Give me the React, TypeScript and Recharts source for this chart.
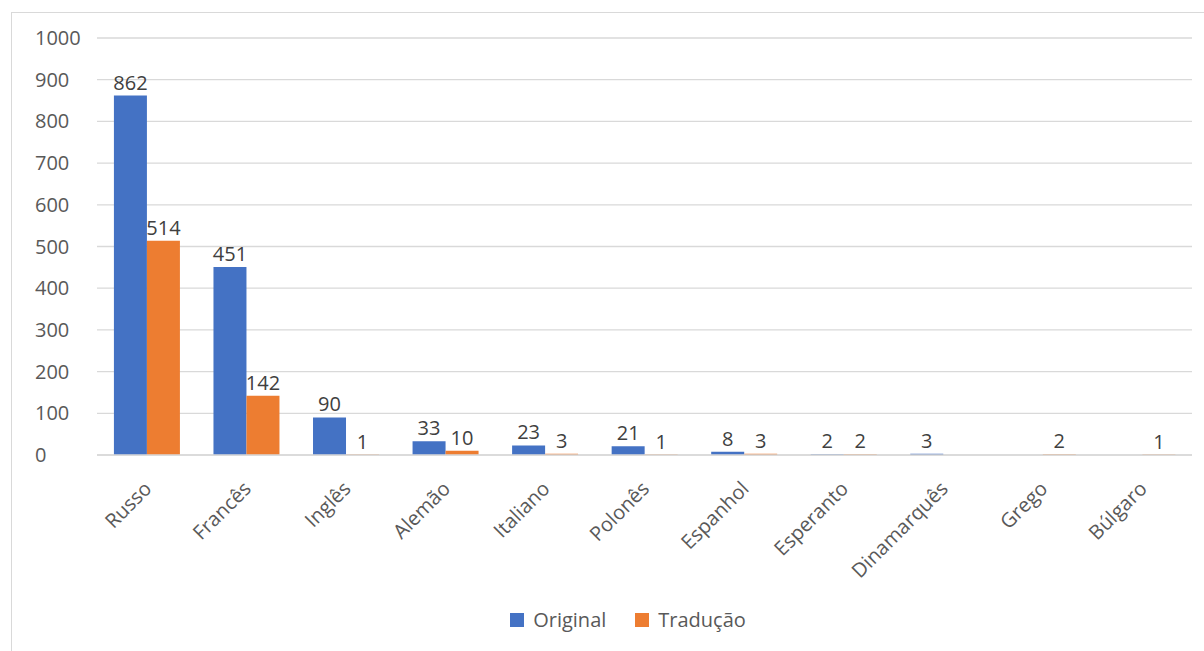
import React from 'react';
import { BarChart, Bar, XAxis, YAxis, CartesianGrid, LabelList } from 'recharts';

const categories = ['Russo', 'Francês', 'Inglês', 'Alemão', 'Italiano', 'Polonês', 'Espanhol', 'Esperanto', 'Dinamarquês', 'Grego', 'Búlgaro'];
const originalValues: (number | null)[] = [862, 451, 90, 33, 23, 21, 8, 2, 3, null, null];
const traducaoValues: (number | null)[] = [514, 142, 1, 10, 3, 1, 3, 2, null, 2, 1];
const yTicks = [0, 100, 200, 300, 400, 500, 600, 700, 800, 900, 1000];

const data = categories.map((c, i) => ({ name: c, original: originalValues[i], traducao: traducaoValues[i] }));

const FONT = '"Open Sans", sans-serif';

const XTick = (props: any) => {
  const { x, y, payload } = props;
  return (
    <g transform={`translate(${x - 4},${y + 17})`}>
      <text transform="rotate(-45)" textAnchor="end" dy="0.71em" fontFamily={FONT} fontSize={20} fill="#595959">
        {payload.value}
      </text>
    </g>
  );
};

const YTick = (props: any) => {
  const { y, payload } = props;
  return (
    <text x={35} y={y} dy="0.35em" textAnchor="start" fontFamily={FONT} fontSize={20} fill="#595959">
      {payload.value}
    </text>
  );
};

export default function App() {
  return (
    <div style={{ position: 'absolute', left: 0, top: 0, width: 1204, height: 651, background: '#fff', overflow: 'hidden' }}>
      <div style={{ position: 'absolute', left: 11, top: 12, width: 1210, height: 700, borderTop: '1px solid #d9d9d9', borderLeft: '1px solid #d9d9d9' }} />
      <div style={{ position: 'absolute', left: 0, top: 0 }}>
        <BarChart width={1204} height={651} data={data} margin={{ top: 38, right: 12, left: 0, bottom: 0 }} barCategoryGap="17%" barGap={0}>
          <CartesianGrid vertical={false} stroke="#d9d9d9" strokeWidth={1.3} />
          <YAxis
            width={97}
            domain={[0, 1000]}
            ticks={yTicks}
            axisLine={false}
            tickLine={false}
            tick={<YTick />}
            interval={0}
          />
          <XAxis
            dataKey="name"
            height={196}
            interval={0}
            axisLine={{ stroke: '#d9d9d9', strokeWidth: 1.3 }}
            tickLine={false}
            tick={<XTick />}
          />
          <Bar dataKey="original" fill="#4472C4" isAnimationActive={false}>
            <LabelList dataKey="original" position="top" offset={6} style={{ fontFamily: FONT, fontSize: 20, fill: '#404040' }} />
          </Bar>
          <Bar dataKey="traducao" fill="#ED7D31" isAnimationActive={false}>
            <LabelList dataKey="traducao" position="top" offset={6} style={{ fontFamily: FONT, fontSize: 20, fill: '#404040' }} />
          </Bar>
        </BarChart>
      </div>
      <div style={{ position: 'absolute', left: 0, top: 606, width: 1256, display: 'flex', justifyContent: 'center', alignItems: 'center', fontFamily: FONT, fontSize: 20, color: '#595959' }}>
        <span style={{ display: 'inline-block', width: 14, height: 14, background: '#4472C4', marginRight: 9 }} />
        <span style={{ marginRight: 29 }}>Original</span>
        <span style={{ display: 'inline-block', width: 14, height: 14, background: '#ED7D31', marginRight: 9 }} />
        <span>Tradução</span>
      </div>
    </div>
  );
}
